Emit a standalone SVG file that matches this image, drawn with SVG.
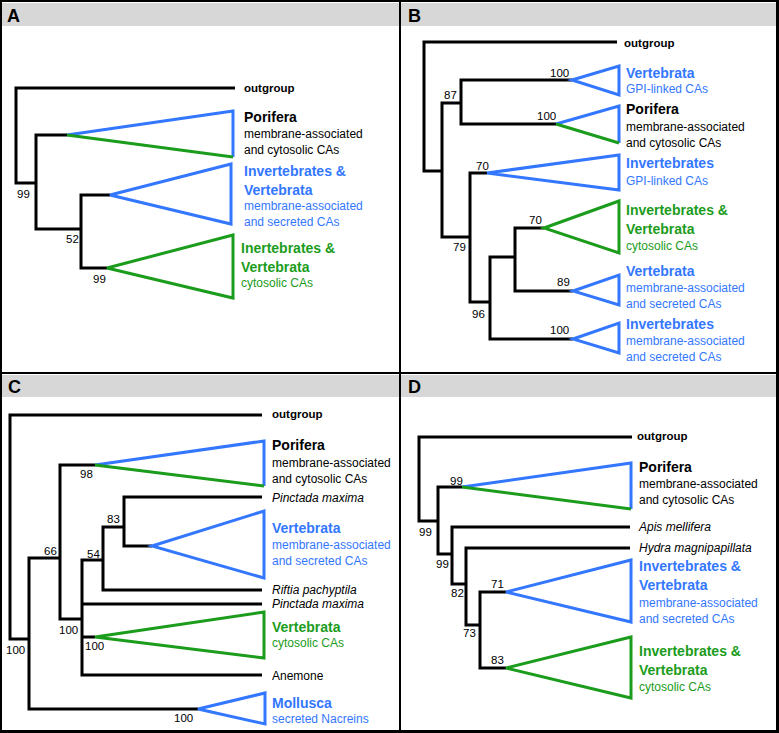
<svg xmlns="http://www.w3.org/2000/svg" width="779" height="733" viewBox="0 0 779 733">
<style>
text{font-family:"Liberation Sans",Arial,sans-serif;}
.hdr{fill:#d7d7d7;}
.hl{font-size:18px;font-weight:bold;fill:#000;}
.br{fill:none;stroke:#000;stroke-width:3;stroke-linejoin:miter;}
.tb{fill:none;stroke:#3377ff;stroke-width:3;stroke-linejoin:miter;}
.tg{fill:none;stroke:#1c9c1c;stroke-width:3;stroke-linejoin:miter;}
.bs{font-size:11.5px;fill:#000;}
.og{font-size:11.5px;font-weight:bold;fill:#000;}
.t{font-size:14px;font-weight:bold;}
.s{font-size:12px;}
.i{font-size:12px;font-style:italic;fill:#000;}
.k{fill:#000;}
.b{fill:#3377ff;}
.g{fill:#1c9c1c;}
.frame{fill:none;stroke:#000;}
</style>
<rect width="779" height="733" fill="#fff"/>
<!-- headers -->
<rect class="hdr" x="2" y="3" width="397" height="23"/>
<rect class="hdr" x="401" y="3" width="375" height="23"/>
<rect class="hdr" x="2" y="375" width="397" height="22"/>
<rect class="hdr" x="401" y="375" width="375" height="22"/>
<text class="hl" x="7" y="22">A</text>
<text class="hl" x="408" y="22">B</text>
<text class="hl" x="8" y="393">C</text>
<text class="hl" x="408" y="393">D</text>
<!-- frame -->
<g id="frame">
<rect class="frame" x="1" y="1" width="776.5" height="730.5" stroke-width="2"/>
<rect x="776" y="0" width="3" height="733" fill="#000"/>
<rect x="0" y="730" width="779" height="3" fill="#000"/>
<rect x="399" y="0" width="2" height="733" fill="#000"/>
<rect x="0" y="372" width="779" height="2" fill="#000"/>
</g>

<!-- Panel A -->
<g id="panelA">
<g id="connectorsA">
<path class="br" d="M235 88 H16 V183 H36"/>
<path class="br" d="M67 135 H36 V229 H81"/>
<path class="br" d="M110 195 H81 V268 H107"/>
<text class="bs" x="17" y="198">99</text>
<text class="bs" x="66" y="243">52</text>
<text class="bs" x="93" y="283">99</text>
</g>
<g id="A_outgroup"><text class="og" x="244" y="92">outgroup</text></g>
<g id="A_porifera">
<path class="tb" d="M67 135 L233 111 L233 157"/>
<path class="tg" d="M67 135 L233 157"/>
<text class="t k" x="244" y="122">Porifera</text>
<text class="s k" x="244" y="138">membrane-associated</text>
<text class="s k" x="244" y="154">and cytosolic CAs</text>
</g>
<g id="A_invvert">
<path class="tb" d="M110 195 L231 164 L231 224 Z"/>
<text class="t b" x="244" y="176">Invertebrates &amp;</text>
<text class="t b" x="244" y="195">Vertebrata</text>
<text class="s b" x="244" y="210">membrane-associated</text>
<text class="s b" x="244" y="226">and secreted CAs</text>
</g>
<g id="A_cyto">
<path class="tg" d="M107 268 L233 235 L233 298 Z"/>
<text class="t g" x="241" y="253">Inertebrates &amp;</text>
<text class="t g" x="241" y="272">Vertebrata</text>
<text class="s g" x="241" y="287">cytosolic CAs</text>
</g>
</g>

<!-- Panel B -->
<g id="panelB">
<g id="connectorsB">
<path class="br" d="M617 42 H424 V171 H442"/>
<path class="br" d="M461 103 H442 V237 H470"/>
<path class="br" d="M572 80 H461 V124 H556"/>
<path class="br" d="M487 173 H470 V302 H490"/>
<path class="br" d="M515 257 H490 V339 H573"/>
<path class="br" d="M544 228 H515 V291 H573"/>
<text class="bs" x="444" y="99">87</text>
<text class="bs" x="550" y="77">100</text>
<text class="bs" x="537" y="120">100</text>
<text class="bs" x="453" y="251">79</text>
<text class="bs" x="476" y="170">70</text>
<text class="bs" x="472" y="318">96</text>
<text class="bs" x="529" y="224">70</text>
<text class="bs" x="557" y="286">89</text>
<text class="bs" x="550" y="334">100</text>
</g>
<g id="B_outgroup"><text class="og" x="624" y="47">outgroup</text></g>
<g id="B_vertgpi">
<path class="tb" d="M572 80 L619 66 L619 95 Z"/>
<text class="t b" x="626" y="78">Vertebrata</text>
<text class="s b" x="626" y="93">GPI-linked CAs</text>
</g>
<g id="B_porifera">
<path class="tb" d="M556 124 L619 106 L619 143"/>
<path class="tg" d="M556 124 L619 143"/>
<text class="t k" x="626" y="114">Porifera</text>
<text class="s k" x="626" y="131">membrane-associated</text>
<text class="s k" x="626" y="147">and cytosolic CAs</text>
</g>
<g id="B_invgpi">
<path class="tb" d="M487 173 L619 155 L619 190 Z"/>
<text class="t b" x="626" y="168">Invertebrates</text>
<text class="s b" x="626" y="185">GPI-linked CAs</text>
</g>
<g id="B_cyto">
<path class="tg" d="M544 228 L619 201 L619 253 Z"/>
<text class="t g" x="626" y="215">Invertebrates &amp;</text>
<text class="t g" x="626" y="234">Vertebrata</text>
<text class="s g" x="626" y="250">cytosolic CAs</text>
</g>
<g id="B_vertmem">
<path class="tb" d="M573 291 L619 275 L619 305 Z"/>
<text class="t b" x="626" y="276">Vertebrata</text>
<text class="s b" x="626" y="292">membrane-associated</text>
<text class="s b" x="626" y="308">and secreted CAs</text>
</g>
<g id="B_invmem">
<path class="tb" d="M573 339 L619 323 L619 353 Z"/>
<text class="t b" x="626" y="329">Invertebrates</text>
<text class="s b" x="626" y="345">membrane-associated</text>
<text class="s b" x="626" y="361">and secreted CAs</text>
</g>
</g>

<!-- Panel C -->
<g id="panelC">
<g id="connectorsC">
<path class="br" d="M262 415 H10 V639 H29"/>
<path class="br" d="M60 558 H29 V709 H198"/>
<path class="br" d="M95 465 H60 V619 H82"/>
<path class="br" d="M103 560 H82 V675 H262"/>
<path class="br" d="M82 604 H262"/>
<path class="br" d="M82 637 H95"/>
<path class="br" d="M124 527 H103 V590 H262"/>
<path class="br" d="M262 497 H124 V546 H152"/>
<text class="bs" x="6" y="654">100</text>
<text class="bs" x="44" y="555">66</text>
<text class="bs" x="80" y="478">98</text>
<text class="bs" x="59" y="634">100</text>
<text class="bs" x="87" y="558">54</text>
<text class="bs" x="107" y="523">83</text>
<text class="bs" x="85" y="650">100</text>
<text class="bs" x="174" y="722">100</text>
</g>
<g id="C_outgroup"><text class="og" x="272" y="418">outgroup</text></g>
<g id="C_porifera">
<path class="tb" d="M95 465 L264 441 L264 486"/>
<path class="tg" d="M95 465 L264 486"/>
<text class="t k" x="272" y="450">Porifera</text>
<text class="s k" x="272" y="467">membrane-associated</text>
<text class="s k" x="272" y="483">and cytosolic CAs</text>
</g>
<g id="C_pinctada1"><text class="i" x="272" y="502">Pinctada maxima</text></g>
<g id="C_vertmem">
<path class="tb" d="M152 546 L264 511 L264 578 Z"/>
<text class="t b" x="272" y="533">Vertebrata</text>
<text class="s b" x="272" y="549">membrane-associated</text>
<text class="s b" x="272" y="565">and secreted CAs</text>
</g>
<g id="C_riftia"><text class="i" x="272" y="594">Riftia pachyptila</text></g>
<g id="C_pinctada2"><text class="i" x="272" y="608">Pinctada maxima</text></g>
<g id="C_vertcyto">
<path class="tg" d="M95 637 L264 612 L264 658 Z"/>
<text class="t g" x="272" y="632">Vertebrata</text>
<text class="s g" x="272" y="647">cytosolic CAs</text>
</g>
<g id="C_anemone"><text class="s k" x="272" y="680">Anemone</text></g>
<g id="C_mollusca">
<path class="tb" d="M198 709 L265 693 L265 724 Z"/>
<text class="t b" x="272" y="708">Mollusca</text>
<text class="s b" x="272" y="723">secreted Nacreins</text>
</g>
</g>

<!-- Panel D -->
<g id="panelD">
<g id="connectorsD">
<path class="br" d="M632 437 H419 V521 H438"/>
<path class="br" d="M462 487 H438 V554 H452"/>
<path class="br" d="M630 527 H452 V584 H466"/>
<path class="br" d="M630 548 H466 V625 H480"/>
<path class="br" d="M506 592 H480 V668 H506"/>
<text class="bs" x="419" y="536">99</text>
<text class="bs" x="450" y="485">99</text>
<text class="bs" x="436" y="568">99</text>
<text class="bs" x="451" y="597">82</text>
<text class="bs" x="463" y="637">73</text>
<text class="bs" x="491" y="588">71</text>
<text class="bs" x="491" y="664">83</text>
</g>
<g id="D_outgroup"><text class="og" x="637" y="440">outgroup</text></g>
<g id="D_porifera">
<path class="tb" d="M462 487 L631 463 L631 509"/>
<path class="tg" d="M462 487 L631 509"/>
<text class="t k" x="639" y="472">Porifera</text>
<text class="s k" x="639" y="488">membrane-associated</text>
<text class="s k" x="639" y="504">and cytosolic CAs</text>
</g>
<g id="D_apis"><text class="i" x="639" y="531">Apis mellifera</text></g>
<g id="D_hydra"><text class="i" x="639" y="552">Hydra magnipapillata</text></g>
<g id="D_invmem">
<path class="tb" d="M506 592 L631 560 L631 622 Z"/>
<text class="t b" x="639" y="571">Invertebrates &amp;</text>
<text class="t b" x="639" y="590">Vertebrata</text>
<text class="s b" x="639" y="607">membrane-associated</text>
<text class="s b" x="639" y="623">and secreted CAs</text>
</g>
<g id="D_cyto">
<path class="tg" d="M506 668 L631 637 L631 698 Z"/>
<text class="t g" x="639" y="656">Invertebrates &amp;</text>
<text class="t g" x="639" y="675">Vertebrata</text>
<text class="s g" x="639" y="691">cytosolic CAs</text>
</g>
</g>
</svg>
